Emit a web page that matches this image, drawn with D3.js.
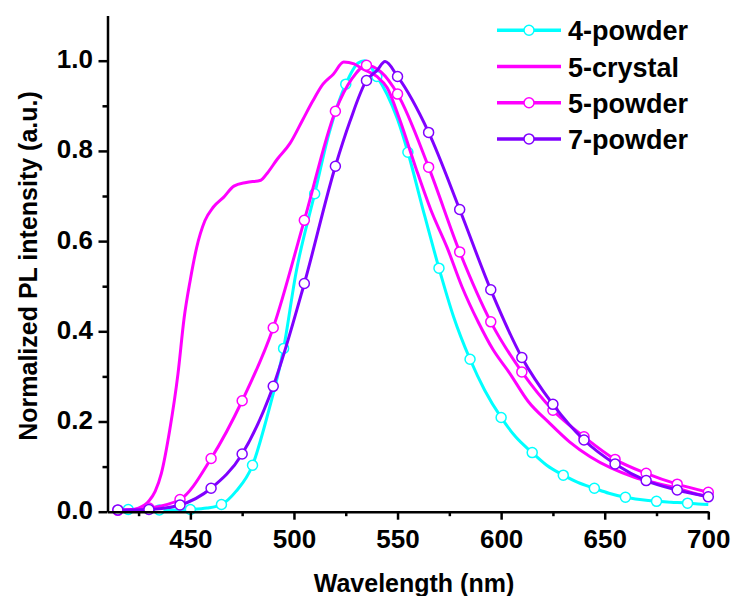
<!DOCTYPE html>
<html>
<head>
<meta charset="utf-8">
<script src="https://cdn.jsdelivr.net/npm/d3@7"></script>
<style>
  html, body { margin: 0; padding: 0; background: #fff; }
  svg { display: block; }
  text { font-family: "Liberation Sans", Arial, Helvetica, sans-serif; font-weight: bold; fill: #000; }
</style>
</head>
<body>
<svg id="chart" width="732" height="596"></svg>
<script>
// ---- data ----
const seriesNames = ["4-powder", "5-crystal", "5-powder", "7-powder"];

const nm4  = [415,420,428,435,443,450,458,465,472,480,487,495,501,510,517,525,531,534,540,545,550,555,562,570,577,585,592,600,607,615,622,630,637,645,652,660,667,675,682,690,695,700];
const val4 = [0.002,0.005,0.004,0.004,0.004,0.005,0.008,0.016,0.045,0.103,0.21,0.362,0.53,0.705,0.84,0.948,0.995,1.0,0.965,0.925,0.87,0.797,0.675,0.540,0.433,0.338,0.27,0.209,0.166,0.131,0.103,0.081,0.065,0.052,0.041,0.032,0.027,0.023,0.021,0.019,0.017,0.016];
const mark4 = [420,435,450,465,480,495,510,525,540,555,570,585,600,615,630,645,660,675,690];

const nmC  = [413,420,425,430,433,436,440,444,447,450,453,457,461,466,471,477,484,487,492,498,504,509,514,519,524,529,533,540,545,551,559,566,574,581,589,596,604,613,623,633,643,653,664,675,685,693,700];
const valC = [0.0,0.003,0.008,0.024,0.045,0.085,0.18,0.305,0.43,0.515,0.585,0.645,0.675,0.697,0.722,0.73,0.735,0.75,0.782,0.816,0.867,0.91,0.948,0.97,0.997,0.993,0.982,0.965,0.94,0.87,0.76,0.67,0.585,0.50,0.42,0.36,0.308,0.245,0.198,0.155,0.122,0.097,0.077,0.063,0.052,0.041,0.033];

const nm5  = [415,430,445,460,475,490,505,520,528,535,542,550,565,580,595,610,625,640,655,670,685,700];
const val5 = [0.003,0.008,0.027,0.118,0.246,0.408,0.646,0.888,0.96,0.99,0.975,0.926,0.764,0.576,0.421,0.310,0.225,0.166,0.116,0.085,0.061,0.043];

const nm7  = [415,430,445,460,475,490,505,520,527,535,540,544,550,565,580,595,610,625,640,655,670,685,700];
const val7 = [0.004,0.005,0.015,0.052,0.128,0.278,0.506,0.766,0.865,0.956,0.978,0.998,0.965,0.841,0.670,0.492,0.342,0.238,0.159,0.106,0.069,0.048,0.033];

const mark57 = [415,430,445,460,475,490,505,520,535,550,565,580,595,610,625,640,655,670,685,700];

const xMajor = [450,500,550,600,650,700];
const xMinor = [425,475,525,575,625,675];
const yMajor = [0.0,0.2,0.4,0.6,0.8,1.0];
const yMinor = [0.1,0.3,0.5,0.7,0.9];

// ---- layout ----
const svg = d3.select("#chart");
const x = d3.scaleLinear().domain([410, 700]).range([107.5, 708.3]);
const y = d3.scaleLinear().domain([0, 1.1]).range([511.7, 15.6]);

const colors = {"4-powder": "#00FFFF", "5-crystal": "#FF00FF", "5-powder": "#FF00FF", "7-powder": "#8000FF"};

const series = [
  {name: "4-powder",  nm: nm4, val: val4, marks: mark4},
  {name: "5-crystal", nm: nmC, val: valC, marks: []},
  {name: "5-powder",  nm: nm5, val: val5, marks: mark57},
  {name: "7-powder",  nm: nm7, val: val7, marks: mark57}
];

const line = d3.line().x(d => x(d[0])).y(d => y(d[1])).curve(d3.curveMonotoneX);

const plot = svg.append("g");
series.forEach(s => {
  const pts = s.nm.map((n, i) => [n, s.val[i]]);
  plot.append("path")
    .attr("d", line(pts))
    .attr("fill", "none")
    .attr("stroke", colors[s.name])
    .attr("stroke-width", 3)
    .attr("stroke-linejoin", "round");
  const mpts = pts.filter(p => s.marks.includes(p[0]));
  plot.selectAll(null).data(mpts).enter().append("circle")
    .attr("cx", d => x(d[0]))
    .attr("cy", d => y(d[1]))
    .attr("r", 5)
    .attr("fill", "#fff")
    .attr("stroke", colors[s.name])
    .attr("stroke-width", 1.5);
});

// ---- axes ----
const xAxis = svg.append("g").attr("transform", `translate(0,${y(0)})`)
  .call(d3.axisBottom(x).tickValues(xMajor).tickSize(8).tickSizeOuter(0).tickPadding(9.5).tickFormat(d3.format("d")));
svg.append("g").attr("transform", `translate(0,${y(0)})`)
  .call(d3.axisBottom(x).tickValues(xMinor).tickSize(4.5).tickSizeOuter(0).tickFormat(""))
  .select(".domain").remove();

const yAxis = svg.append("g").attr("transform", `translate(${x(410)},0)`)
  .call(d3.axisLeft(y).tickValues(yMajor).tickSize(9).tickSizeOuter(0).tickPadding(5.5).tickFormat(d3.format(".1f")));
svg.append("g").attr("transform", `translate(${x(410)},0)`)
  .call(d3.axisLeft(y).tickValues(yMinor).tickSize(5).tickSizeOuter(0).tickFormat(""))
  .select(".domain").remove();

svg.selectAll(".domain").attr("stroke", "#000").attr("stroke-width", 2.5);
svg.selectAll(".tick line").attr("stroke", "#000").attr("stroke-width", 2.5);
svg.selectAll(".tick text").style("font-size", "26px").style("font-weight", "bold")
  .style("font-family", '"Liberation Sans", Arial, sans-serif').attr("fill", "#000");
yAxis.selectAll(".tick text").attr("dy", "0.27em");

// ---- axis titles ----
svg.append("text")
  .attr("x", 414).attr("y", 592)
  .attr("text-anchor", "middle")
  .style("font-size", "25px")
  .text("Wavelength (nm)");

svg.append("text")
  .attr("transform", "translate(37,266) rotate(-90)")
  .attr("text-anchor", "middle")
  .style("font-size", "25px")
  .text("Normalized PL intensity (a.u.)");

// ---- legend ----
const legend = svg.append("g");
seriesNames.forEach((name, i) => {
  const cy = 30.3 + i * 36.2;
  const s = series.find(d => d.name === name);
  legend.append("line")
    .attr("x1", 497).attr("x2", 561).attr("y1", cy).attr("y2", cy)
    .attr("stroke", colors[name]).attr("stroke-width", 3.5);
  if (s.marks.length) {
    legend.append("circle").attr("cx", 529).attr("cy", cy).attr("r", 5)
      .attr("fill", "#fff").attr("stroke", colors[name]).attr("stroke-width", 1.5);
  }
  legend.append("text")
    .attr("x", 568).attr("y", cy + 10)
    .style("font-size", "27px")
    .text(name);
});
</script>
</body>
</html>
